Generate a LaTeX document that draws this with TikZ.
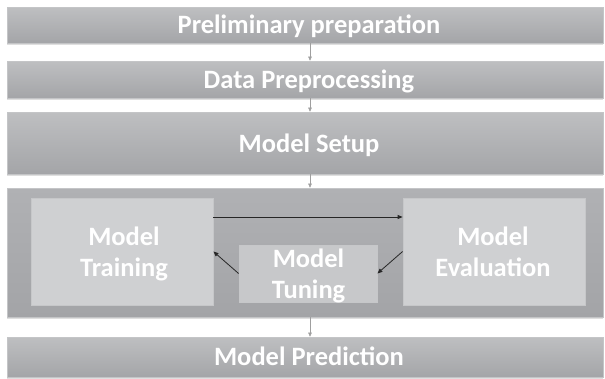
\documentclass[tikz,border=0pt]{standalone}
\usepackage{fontspec}
\setmainfont{Carlito}
\usetikzlibrary{arrows.meta,shadows}
\begin{document}
\begin{tikzpicture}[x=1pt,y=-1pt,
  lbl/.style={text=white,font=\fontsize{26.5}{31}\selectfont\bfseries,anchor=base,inner sep=0pt},
  bar/.style={rectangle,minimum width=596pt,inner sep=0pt,
    top color=barTop,bottom color=barBot,draw=barEdge,line width=0.6pt,
    drop shadow={shadow xshift=0pt,shadow yshift=-1.5pt,opacity=0.25}},
  inner/.style={rectangle,inner sep=0pt,fill=innerFill,draw=innerEdge,line width=0.8pt},
  flow/.style={draw=gray!75,line width=0.5pt,-{Triangle[length=4pt,width=3.5pt]}},
  blk/.style={draw=black!85,line width=0.8pt,-{Triangle[length=5pt,width=4pt]}}]
\definecolor{barTop}{HTML}{BEBFC1}
\definecolor{barBot}{HTML}{A4A5A8}
\definecolor{barEdge}{HTML}{C4C5C7}
\definecolor{boxTop}{HTML}{B0B1B4}
\definecolor{boxBot}{HTML}{A3A4A7}
\definecolor{innerFill}{HTML}{CFD0D2}
\definecolor{innerEdge}{HTML}{C6C7C9}
\useasboundingbox[fill=white] (0,0) rectangle (605,378);

% bars
\node[bar,minimum height=36pt] (prep) at (305,25) {};
\node[bar,minimum height=37pt] (data) at (305,79.5) {};
\node[bar,minimum height=62pt] (setup) at (305,143) {};
\node[bar,minimum height=129pt,top color=boxTop,bottom color=boxBot] (cont) at (305,252.5) {};
\node[bar,minimum height=40pt] (pred) at (305,357) {};

% inner boxes
\node[inner,minimum width=182pt,minimum height=107pt] (train) at (122,251.5) {};
\node[inner,minimum width=182pt,minimum height=107pt] (eval) at (494,251.5) {};
\node[inner,minimum width=138pt,minimum height=57pt,fill=innerFill!96!black] (tune) at (308,273.5) {};

% texts
\node[lbl] (prepT) at (309,33) {Preliminary preparation};
\node[lbl] (dataT) at (309,88) {Data Preprocessing};
\node[lbl] (setupT) at (309,152) {Model Setup};
\node[lbl] (predT) at (309,365.5) {Model Prediction};
\node[lbl] (trainT1) at (124,245) {Model};
\node[lbl] (trainT2) at (124,276) {Training};
\node[lbl] (evalT1) at (493,245) {Model};
\node[lbl] (evalT2) at (493,276) {Evaluation};
\node[lbl] (tuneT1) at (308.5,267) {Model};
\node[lbl] (tuneT2) at (308.5,298) {Tuning};

% connectors
\draw[flow] ([xshift=5pt]prep.south) -- ([xshift=5pt]data.north);
\draw[flow] ([xshift=5pt]data.south) -- ([xshift=5pt]setup.north);
\draw[flow] ([xshift=5pt]setup.south) -- ([xshift=5pt]cont.north);
\draw[flow] ([xshift=5pt]cont.south) -- ([xshift=5pt]pred.north);

\draw[blk] ([yshift=34.5pt]train.east) -- ([yshift=34.5pt]eval.west);
\draw[blk] (tune.west) -- (train.east);
\draw[blk] (eval.west) -- (tune.east);
\end{tikzpicture}
\end{document}
